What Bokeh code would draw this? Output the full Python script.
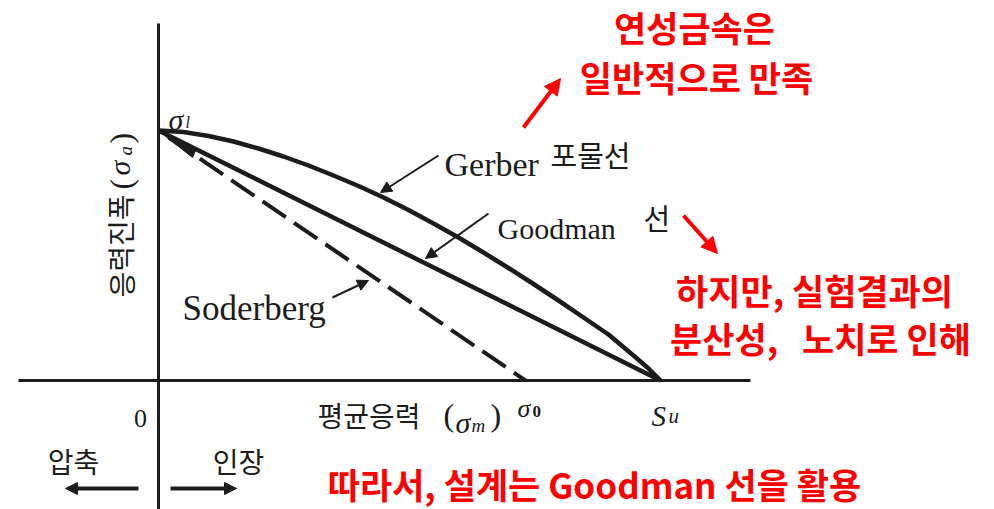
from bokeh.plotting import figure
from bokeh.models import Range1d, Arrow, NormalHead
from bokeh.core.properties import value
from bokeh.embed import file_html
from bokeh.resources import INLINE

# Fatigue (mean stress) diagram — stress values in the same units on both axes
su = 502.0        # ultimate tensile strength S_u
sigma_0 = 367.0   # yield strength sigma_0 (Soderberg end point)
sigma_l = 250.0   # fatigue limit sigma_l

# Gerber parabola, read point by point
gerber_sm = [0, 25, 50, 75, 100, 125, 150, 175, 200, 225, 250, 275, 300,
             325, 350, 375, 400, 425, 450, 475, 490, 502]
gerber_sa = [250, 248.5, 244.5, 239, 232, 224, 215, 205, 194.5, 183, 170.5, 157, 143,
             128, 112.5, 96.5, 80, 63, 46, 25, 12, 0]

# Goodman and Soderberg straight lines
goodman_sm = [0, su]
goodman_sa = [sigma_l, 0]
soder_sm = [0, sigma_0]
soder_sa = [sigma_l, 0]

INK = "#1c1c1c"
RED = "#ff0000"
SERIF = value("Liberation Serif")
KR = value("Noto Sans CJK KR")
NB = "\u00a0"

p = figure(width=994, height=509, x_range=Range1d(-158, 836), y_range=Range1d(-129, 380),
           output_backend="svg", toolbar_location=None,
           x_axis_location=None, y_axis_location=None, min_border=0)
p.grid.visible = False
p.outline_line_color = None
p.background_fill_color = "white"
p.border_fill_color = "white"

# axes through the origin
p.segment(x0=[-140, 0], y0=[0, -129], x1=[592, 0], y1=[0, 357], line_color=INK, line_width=3)

# curves
p.line(gerber_sm, gerber_sa, line_color=INK, line_width=4.5, line_join="round")
p.line(goodman_sm, goodman_sa, line_color=INK, line_width=4.5)
p.line(soder_sm, soder_sa, line_color=INK, line_width=4, line_dash="28 10", line_dash_offset=-12)
p.patch([0, 38, 34], [sigma_l, 232, 223], fill_color=INK, line_color=INK, line_width=1)

# leader arrows to the curves
for xs, ys, xe, ye in [(280, 225, 222, 188), (330, 167, 267, 122), (174, 83, 210, 100)]:
    p.add_layout(Arrow(end=NormalHead(size=11, fill_color=INK, line_color=INK, line_width=1),
                       x_start=xs, y_start=ys, x_end=xe, y_end=ye,
                       line_color=INK, line_width=2))

# compression / tension arrows
for xs, xe in [(-20, -93), (12, 78)]:
    p.add_layout(Arrow(end=NormalHead(size=12, fill_color=INK, line_color=INK, line_width=1),
                       x_start=xs, y_start=-108, x_end=xe, y_end=-108,
                       line_color=INK, line_width=4))

# red pointer arrows
for xs, ys, xe, ye in [(365, 253, 402, 302), (525, 165, 559, 127)]:
    p.add_layout(Arrow(end=NormalHead(size=16, fill_color=RED, line_color=RED, line_width=1),
                       x_start=xs, y_start=ys, x_end=xe, y_end=ye,
                       line_color=RED, line_width=4))

# curve labels
for x, y, t, s in [(286, 216, "Gerber", "34px"), (339, 152, "Goodman", "30px"),
                   (24, 72, "Soderberg", "35px")]:
    p.text(x=[x], y=[y], text=[t], text_font=SERIF, text_font_size=s, text_color=INK,
           text_align="left", text_baseline="alphabetic")
p.text(x=[392, 485], y=[227, 164], text=["포물선", "선"],
       text_font=KR, text_font_size="29px", text_color=INK,
       text_align="left", text_baseline="middle")

# axis labels
p.text(x=[-18], y=[-38], text=["0"], text_font=SERIF, text_font_size="26px",
       text_color=INK, text_align="center", text_baseline="alphabetic")
p.text(x=[159], y=[-34], text=["평균응력"], text_font=KR, text_font_size="28px",
       text_color=INK, text_align="left", text_baseline="middle")
p.text(x=[285, 332], y=[-34, -34], text=["(", ")"], text_font=SERIF, text_font_size="32px",
       text_color=INK, text_align="left", text_baseline="middle")
p.text(x=[297], y=[-42], text=["σ"], text_font=SERIF, text_font_size="30px",
       text_font_style="italic", text_color=INK, text_align="left", text_baseline="alphabetic")
p.text(x=[313], y=[-45], text=["m"], text_font=SERIF, text_font_size="19px",
       text_font_style="italic", text_color=INK, text_align="left", text_baseline="alphabetic")

# vertical axis label (reads bottom to top)
p.text(x=[-38], y=[83], text=["응력진폭"], text_font=KR, text_font_size="28px",
       text_color=INK, text_align="left", text_baseline="middle", angle=1.5708)
p.text(x=[-38, -38], y=[191, 237], text=["(", ")"], text_font=SERIF, text_font_size="32px",
       text_color=INK, text_align="left", text_baseline="middle", angle=1.5708)
p.text(x=[-39], y=[205], text=["σ"], text_font=SERIF, text_font_size="30px",
       text_font_style="italic", text_color=INK, text_align="left", text_baseline="middle",
       angle=1.5708)
p.text(x=[-33], y=[225], text=["a"], text_font=SERIF, text_font_size="19px",
       text_font_style="italic", text_color=INK, text_align="left", text_baseline="middle",
       angle=1.5708)

# point labels: sigma_l, sigma_0, S_u
p.text(x=[10], y=[261], text=["σ"], text_font=SERIF, text_font_size="30px",
       text_font_style="italic", text_color=INK, text_align="left", text_baseline="alphabetic")
p.text(x=[27], y=[258], text=["l"], text_font=SERIF, text_font_size="16px",
       text_font_style="italic", text_color=INK, text_align="left", text_baseline="alphabetic")
p.text(x=[sigma_0 - 8], y=[-28], text=["σ"], text_font=SERIF, text_font_size="26px",
       text_font_style="italic", text_color=INK, text_align="left", text_baseline="alphabetic")
p.text(x=[sigma_0 + 7], y=[-31], text=["0"], text_font=SERIF, text_font_size="17px",
       text_font_style="bold", text_color=INK, text_align="left", text_baseline="alphabetic")
p.text(x=[su - 9], y=[-35], text=["S"], text_font=SERIF, text_font_size="29px",
       text_font_style="italic", text_color=INK, text_align="left", text_baseline="alphabetic")
p.text(x=[su + 8], y=[-35], text=["u"], text_font=SERIF, text_font_size="21px",
       text_font_style="italic", text_color=INK, text_align="left", text_baseline="alphabetic")

# compression / tension
p.text(x=[-85, 80], y=[-80, -80], text=["압축", "인장"], text_font=KR, text_font_size="28px",
       text_color=INK, text_align="center", text_baseline="middle")

# red notes
p.text(x=[536, 538, 656, 662, 436], y=[354, 304, 91, 43, -103],
       text=["연성금속은", "일반적으로 만족", "하지만, 실험결과의",
             "분산성," + NB + NB + NB + "노치로 인해",
             "따라서, 설계는 Goodman 선을 활용"],
       text_font=KR, text_font_size="35px", text_font_style="bold", text_color=RED,
       text_align="center", text_baseline="middle")

open("out.html", "w").write(file_html(p, INLINE))
